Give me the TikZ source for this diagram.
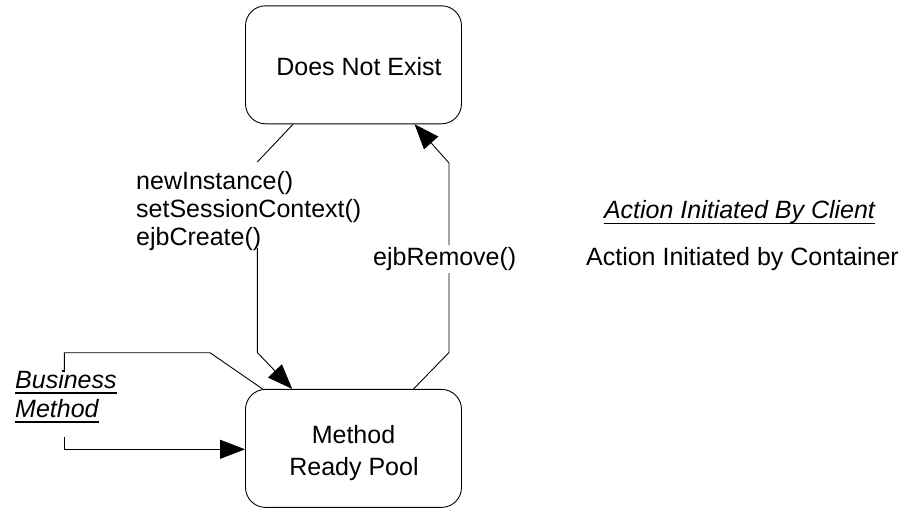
\documentclass[tikz,border=0pt]{standalone}
\usepackage{fontspec}
\setmainfont{Liberation Sans}
\usetikzlibrary{arrows.meta,calc}
\tikzset{
  state/.style={draw, line width=0.9pt, rounded corners=20pt, minimum width=216pt, minimum height=118pt, inner sep=0pt},
  txt/.style={inner sep=0pt, font=\fontsize{25}{32}\selectfont},
  conn/.style={line width=0.9pt},
  tip/.style={-{Triangle[length=25pt,width=19pt]}},
  uline/.style={line width=1.4pt},
}
\begin{document}
\begin{tikzpicture}[x=1pt,y=-1pt]
\useasboundingbox (0,0) rectangle (913,509);
% states
\node[state] (dne) at (353.5,64.8) {};
\node[txt, anchor=base] (dnetext) at (359,75) {Does Not Exist};
\node[state, align=center, txt] (rp) at (353.5,448.4) {};
\node[txt, anchor=base] (rptext1) at (353.5,443) {Method};
\node[txt, anchor=base] (rptext2) at (354,475) {Ready Pool};
% transition labels
\node[txt, anchor=base west] (cr1) at (136,189) {newInstance()};
\node[txt, anchor=base west] (cr2) at (136,217) {setSessionContext()};
\node[txt, anchor=base west] (cr3) at (136,245) {ejbCreate()};
\node[txt, anchor=base west] (remove) at (373,265) {ejbRemove()};
\node[txt, anchor=base west] (bm1) at (15,388) {\itshape Business};
\node[txt, anchor=base west] (bm2) at (15,417) {\itshape Method};
% legend
\node[txt, anchor=base] (client) at (739.5,218) {\itshape Action Initiated By Client};
\node[txt, anchor=base] (container) at (742.5,265) {Action Initiated by Container};
% underlines of client-initiated actions
\draw[uline] ($(bm1.base west)+(0,5)$) -- ($(bm1.base east)+(0,5)$);
\draw[uline] ($(bm2.base west)+(0,5)$) -- ($(bm2.base east)+(0,5)$);
\draw[uline] ($(client.base west)+(0,5.3)$) -- ($(client.base east)+(0,5.3)$);
% create transition
\coordinate (c1) at (257.3,162);
\coordinate (c2) at (257.3,248);
\coordinate (c3) at (257.3,352.5);
\draw[conn] ($(dne.south west)+(48,0)$) -- (c1);
\draw[conn, tip] (c2) -- (c3) -- ($(rp.north west)+(47.2,0)$);
% remove transition
\coordinate (r1) at (449,352.5);
\coordinate (r2) at (449,273);
\coordinate (r3) at (449,245);
\coordinate (r4) at (449,163);
\draw[conn] ($(rp.north west)+(168.5,0)$) -- (r1) -- (r2);
\draw[conn, tip] (r3) -- (r4) -- ($(dne.south west)+(169.5,0)$);
% business method self transition
\coordinate (b1) at (210,352.7);
\coordinate (b2) at (64.3,352.7);
\coordinate (b3) at (64.3,372);
\coordinate (b4) at (64.3,437);
\coordinate (b5) at (64.3,449.3);
\draw[conn] ($(rp.north west)+(17.5,0)$) -- (b1) -- (b2) -- (b3);
\draw[conn, tip] (b4) -- (b5) -- (rp.west |- b5);
\end{tikzpicture}
\end{document}
